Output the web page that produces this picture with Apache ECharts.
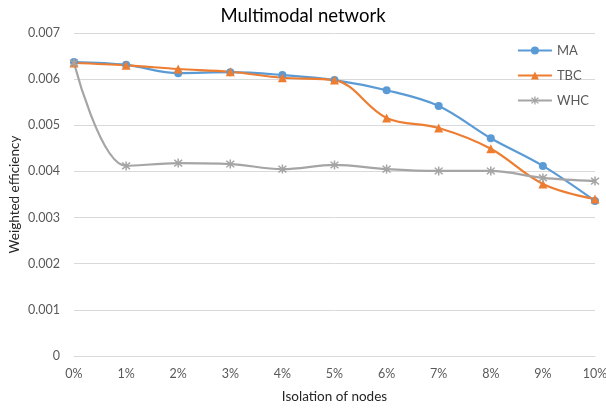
<!DOCTYPE html>
<html><head><meta charset="utf-8">
<script src="https://cdn.jsdelivr.net/npm/echarts@6/dist/echarts.min.js"></script>
<style>html,body{margin:0;padding:0;background:#fff}#c{width:606px;height:408px}</style>
</head><body><div id="c"></div>
<script>
const categories = ['0%','1%','2%','3%','4%','5%','6%','7%','8%','9%','10%'];
const MA  = [0.00637,0.00631,0.00613,0.00615,0.00609,0.00598,0.00576,0.00542,0.00472,0.00412,0.00336];
const TBC = [0.00635,0.00630,0.00622,0.00616,0.00603,0.00598,0.00516,0.00494,0.00449,0.00373,0.00340];
const WHC = [0.00635,0.00412,0.00418,0.00416,0.00405,0.00414,0.00405,0.00401,0.00401,0.00386,0.00379];
const yTicks = [0,0.001,0.002,0.003,0.004,0.005,0.006,0.007];

const font = 'Lato, "Open Sans", sans-serif';
const star = 'path://M-0.7,-5h1.4v10h-1.4z M-4.2,-3.2L-3.2,-4.2L4.2,3.2L3.2,4.2z M3.2,-4.2L4.2,-3.2L-3.2,4.2L-4.2,3.2z';
const chart = echarts.init(document.getElementById('c'), null, {renderer:'canvas'});
function ser(name, data, color, symbol, size){
  return {name, type:'line', data, smooth:0.35, symbol, symbolSize:size,
    lineStyle:{color, width:2.2}, itemStyle:{color}, showSymbol:true};
}
chart.setOption({
  animation:false,
  textStyle:{fontFamily:font},
  title:{text:'Multimodal network', left:'center', top:2,
    textStyle:{fontSize:18.5, fontWeight:'normal', color:'#000', fontFamily:font}},
  legend:{orient:'vertical', right:12, top:39, itemGap:12, itemWidth:34, itemHeight:10,
    textStyle:{fontSize:13, color:'#595959', fontFamily:font},
    data:['MA','TBC','WHC']},
  grid:{left:74, right:11, top:33, bottom:52, containLabel:false, outerBoundsMode:'none'},
  xAxis:{type:'category', data:categories, boundaryGap:false,
    name:'Isolation of nodes', nameLocation:'middle', nameGap:34,
    nameTextStyle:{fontSize:13.5, color:'#262626', fontFamily:font},
    axisLine:{lineStyle:{color:'#d9d9d9', width:1}}, axisTick:{show:false},
    axisLabel:{fontSize:12.5, color:'#595959', margin:11}},
  yAxis:{type:'value', min:0, max:0.007, interval:0.001,
    name:'Weighted efficiency', nameLocation:'middle', nameGap:52, nameRotate:90,
    nameMoveOverlap:false,
    nameTextStyle:{fontSize:13.5, color:'#262626', fontFamily:font},
    axisLine:{show:false}, axisTick:{show:false},
    axisLabel:{fontSize:12.5, color:'#595959', margin:14,
      formatter:v=>{const t=yTicks.find(x=>Math.abs(x-v)<1e-9); return t===0?'0':(t!==undefined?t.toFixed(3):'');}},
    splitLine:{lineStyle:{color:'#d9d9d9', width:1}}},
  series:[
    ser('MA', MA, '#5B9BD5', 'circle', 8),
    ser('TBC', TBC, '#ED7D31', 'triangle', 9),
    ser('WHC', WHC, '#A5A5A5', star, 9)
  ]
});
</script></body></html>
